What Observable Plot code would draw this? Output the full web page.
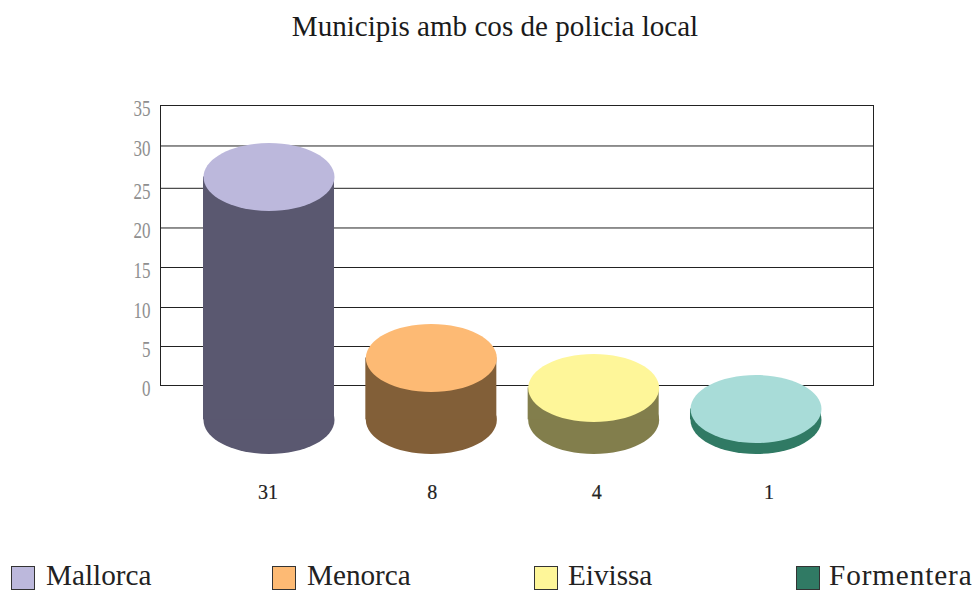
<!DOCTYPE html>
<html><head><meta charset="utf-8">
<script src="https://cdn.jsdelivr.net/npm/d3@7"></script>
<script src="https://cdn.jsdelivr.net/npm/@observablehq/plot@0.6"></script>
<style>
html,body{margin:0;padding:0;background:#fff;overflow:hidden}
#wrap{width:976px;height:591px;position:relative;font-family:"Liberation Serif",serif}
#title{height:50px;line-height:53px;text-align:center;font-size:29.1px;color:#1a1a1a;padding-left:14px;box-sizing:border-box}
#chart svg{display:block}
#legend{position:absolute;left:0;top:566px;height:25px;width:976px}
.item{position:absolute;top:0;display:flex;align-items:center;height:24px;line-height:24px;font-size:29.2px;color:#222}
.sw{width:22px;height:22px;border:1px solid #333;flex:none}
.name{margin-left:11px;position:relative;top:-3.3px}
</style></head><body>
<div id="wrap"><div id="title">Municipis amb cos de policia local</div><div id="chart"></div><div id="legend"></div></div>
<script>
const islands = ["Mallorca","Menorca","Eivissa","Formentera"];
const counts = [31,8,4,1];
const cylinderTops = [26.06,3.44,-0.3,-2.94];
const cylinderBase = -4.3;
const topColors = ["#bcb8dc","#fdba74","#fef699","#a8dcd8"];
const bodyColors = ["#5a5870","#825f38","#827e4c","#307a64"];
const legendColors = ["#bcb8dc","#fdba74","#fef699","#307a64"];
const legendLeft = [11,272,534,796];
const legendGap = [11,11,10,9];
const legendSpacing = [0,0,0,0.9];
const yTicks = [0,5,10,15,20,25,30,35];
const gridLevels = [0,4.875,9.75,14.75,19.69,24.65,29.94,35];
const labelValue = -13.4;
const labelShift = [-1,1,3,13];
const table = islands.map((island,i)=>({island,count:counts[i],top:topColors[i],body:bodyColors[i],shift:labelShift[i],level:cylinderTops[i]}));
const tickText = new Map(gridLevels.map((g,i)=>[g,String(yTicks[i])]));
const ellipse = {draw(ctx,size){
  const rx=Math.sqrt(size/Math.PI), ry=rx*34/65.5, k=0.5523;
  ctx.moveTo(rx,0);
  ctx.bezierCurveTo(rx,k*ry,k*rx,ry,0,ry);
  ctx.bezierCurveTo(-k*rx,ry,-rx,k*ry,-rx,0);
  ctx.bezierCurveTo(-rx,-k*ry,-k*rx,-ry,0,-ry);
  ctx.bezierCurveTo(k*rx,-ry,rx,-k*ry,rx,0);
  ctx.closePath();
}};
const plot = Plot.plot({
  width:976,height:510,
  marginLeft:160,marginRight:103,marginTop:55,marginBottom:175,
  style:{background:"#fff",fontFamily:"Liberation Serif, serif"},
  x:{type:"band",domain:islands,range:[203,821],paddingInner:0.193,paddingOuter:0,round:false,axis:null},
  y:{domain:[0,35],axis:null},
  marks:[
    Plot.ruleY(gridLevels,{stroke:"#222",strokeWidth:1}),
    Plot.frame({stroke:"#222",strokeWidth:1}),
    Plot.axisY({ticks:gridLevels,tickFormat:d=>tickText.get(d),tickSize:0,tickPadding:10,label:null,fontSize:23,fill:"#8f8f8f",color:"#8f8f8f",stroke:"#8f8f8f",strokeWidth:0.35,dy:3}),
    Plot.dot(table,{x:"island",y:()=>cylinderBase,r:65.5,symbol:ellipse,fill:"body",stroke:null}),
    Plot.barY(table,{x:"island",y1:()=>cylinderBase,y2:"level",fill:"body"}),
    Plot.dot(table,{x:"island",y:"level",r:65.5,symbol:ellipse,fill:"top",stroke:null}),
    ...table.map(d=>Plot.text([d],{x:"island",y:()=>labelValue,text:"count",dx:d.shift,fontSize:20,fill:"#222",stroke:"#222",strokeWidth:0.2}))
  ]
});
document.getElementById("chart").append(plot);
d3.select(plot).selectAll('[aria-label="y-axis tick label"] text').each(function(){
  const n=this.textContent.length;
  this.setAttribute("textLength",8.5*n);
  this.setAttribute("lengthAdjust","spacingAndGlyphs");
});
const legend=document.getElementById("legend");
islands.forEach((name,i)=>{
  const it=document.createElement("div");it.className="item";it.style.left=legendLeft[i]+"px";
  const s=document.createElement("span");s.className="sw";s.style.background=legendColors[i];
  const t=document.createElement("span");t.className="name";t.textContent=name;t.style.marginLeft=legendGap[i]+"px";t.style.letterSpacing=legendSpacing[i]+"px";
  it.append(s,t);legend.append(it);
});
</script></body></html>
